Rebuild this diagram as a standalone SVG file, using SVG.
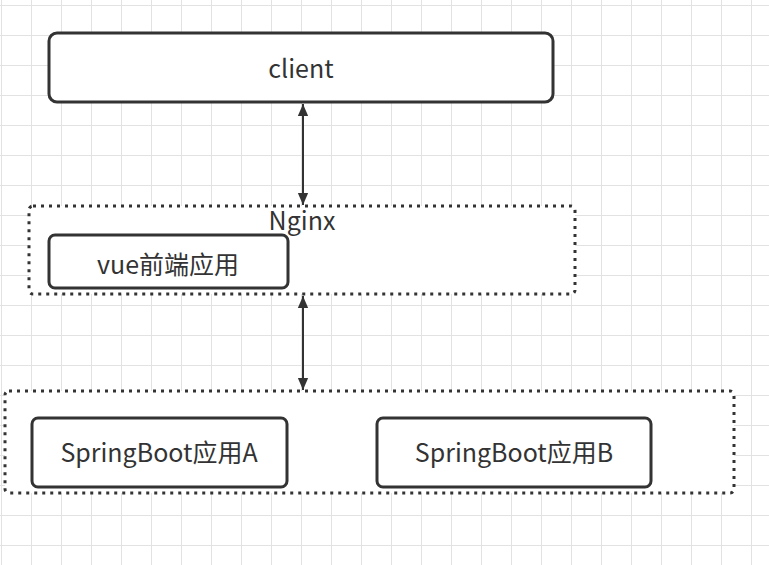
<svg xmlns="http://www.w3.org/2000/svg" width="769" height="565" viewBox="0 0 769 565">
<defs>
<pattern id="grid" x="1" y="5" width="30" height="30" patternUnits="userSpaceOnUse"><path d="M0 0H30M0 0V30" fill="none" stroke="#e2e2e2" stroke-width="2"/></pattern>
<marker id="ah" markerWidth="12" markerHeight="14" refX="14" refY="6" orient="auto-start-reverse" markerUnits="userSpaceOnUse" viewBox="0 0 14 12"><path d="M0 0L14 6L0 12z" fill="#333"/></marker>
<style>
.box{fill:#fff;stroke:#333;stroke-width:3}
.dot{fill:#fff;stroke:#333;stroke-width:3;stroke-dasharray:3 5}
text{font-family:"Noto Sans CJK SC","Noto Sans",sans-serif;font-size:25px;fill:#333;text-anchor:middle}
.c{stroke:#333;stroke-width:2;fill:none;marker-start:url(#ah);marker-end:url(#ah)}
</style>
</defs>
<rect width="769" height="565" fill="#fff"/>
<rect width="769" height="565" fill="url(#grid)"/>
<g id="client"><rect class="box" x="49" y="33" width="504" height="69" rx="8"/><text x="301" y="78">client</text></g>
<g id="nginx"><rect class="dot" x="29" y="206" width="546" height="88" rx="4"/><text x="302" y="230">Nginx</text></g>
<g id="vue"><rect class="box" x="49" y="235" width="239" height="53" rx="6"/><text x="168" y="274">vue前端应用</text></g>
<g id="backend"><rect class="dot" x="5" y="391" width="729" height="102" rx="4"/></g>
<g id="springA"><rect class="box" x="32" y="418" width="255" height="69" rx="6"/><text x="159" y="462">SpringBoot应用A</text></g>
<g id="springB"><rect class="box" x="377" y="418" width="274" height="69" rx="6"/><text x="514" y="462">SpringBoot应用B</text></g>
<g id="connectors">
<line class="c" x1="303" y1="104" x2="303" y2="205"/>
<line class="c" x1="303" y1="296" x2="303" y2="390"/>
</g>
</svg>
